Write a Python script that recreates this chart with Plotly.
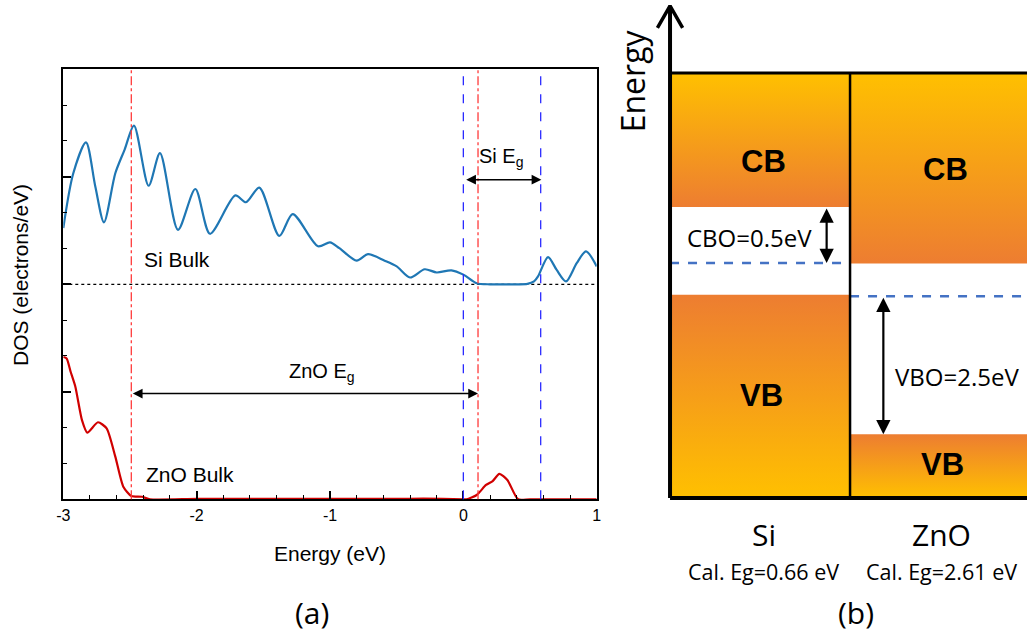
import plotly.graph_objects as go

W, H = 1027, 636

# ---------------- (a) DOS data ----------------
si_energy = [-3.00, -2.925, -2.83, -2.76, -2.695, -2.61, -2.54, -2.47, -2.36, -2.275,
             -2.14, -2.01, -1.90, -1.71, -1.63, -1.53, -1.38, -1.28, -1.09, -1.00,
             -0.93, -0.80, -0.715, -0.59, -0.50, -0.40, -0.29, -0.20, -0.09, 0.00,
             0.10, 0.20, 0.30, 0.40, 0.48, 0.53, 0.56, 0.635, 0.70, 0.77,
             0.85, 0.92, 1.00]
si_dos = [1.57, 3.10, 3.96, 2.73, 1.73, 3.10, 3.76, 4.43, 2.75, 3.66,
          1.52, 2.66, 1.41, 2.48, 2.29, 2.70, 1.35, 1.96, 1.06, 1.17,
          1.01, 0.66, 0.84, 0.66, 0.50, 0.19, 0.42, 0.33, 0.39, 0.27,
          0.03, 0.00, 0.00, 0.00, 0.01, 0.08, 0.22, 0.76, 0.40, 0.08,
          0.59, 0.92, 0.50]
SI_OFFSET = 6

zno_energy = [-3.00, -2.975, -2.945, -2.91, -2.86, -2.82, -2.74, -2.675, -2.61, -2.55,
              -2.49, -2.41, -2.35, -2.0, -1.5, -1.0, -0.5, -0.3, 0.00, 0.025,
              0.10, 0.17, 0.22, 0.27, 0.33, 0.41, 0.5, 1.00]
zno_dos = [3.97, 3.93, 3.56, 3.15, 2.21, 1.86, 2.15, 1.98, 1.19, 0.35,
           0.09, 0.07, 0.00, 0.01, 0.01, 0.01, 0.01, 0.02, 0.00, 0.00,
           0.12, 0.40, 0.51, 0.71, 0.54, 0.00, 0.00, 0.00]

zno_gap_edges = [-2.49, 0.11]   # red dash-dot lines
si_gap_edges = [0.00, 0.58]     # blue dashed lines
x_ticks = [-3, -2, -1, 0, 1]
x_tick_labels = ["-3", "-2", "-1", "0", "1"]

# ---------------- (b) band diagram data (schematic units) ----------------
materials = ["Si", "ZnO"]
gap_labels = ["Cal. Eg=0.66 eV", "Cal. Eg=2.61 eV"]
cb_top = [10.0, 10.0]
cb_bottom = [6.85, 5.52]
vb_top = [4.78, 1.50]
vb_bottom = [0.0, 0.0]
fermi_level = [5.53, 4.75]
offset_labels = ["CBO=0.5eV", "VBO=2.5eV"]

SI_COLOR = "#1F77B4"
ZNO_COLOR = "#D00000"
YELLOW = "#FFC000"
ORANGE = "#ED7D31"
BLUE_DASH = "#4472C4"

fig = go.Figure()

# ---- panel (a) curves ----
fig.add_trace(go.Scatter(x=si_energy, y=[v + SI_OFFSET for v in si_dos], mode="lines",
                         line=dict(color=SI_COLOR, width=2.2, shape="spline", smoothing=0.8),
                         xaxis="x", yaxis="y", hoverinfo="skip", showlegend=False))
fig.add_trace(go.Scatter(x=zno_energy, y=zno_dos, mode="lines",
                         line=dict(color=ZNO_COLOR, width=2.2, shape="spline", smoothing=0.6),
                         xaxis="x", yaxis="y", hoverinfo="skip", showlegend=False))

shapes = []
shapes.append(dict(type="line", xref="x domain", yref="y", x0=0, x1=1, y0=SI_OFFSET, y1=SI_OFFSET,
                   line=dict(color="black", width=1.2, dash="dot"), layer="below"))
for xv in zno_gap_edges:
    shapes.append(dict(type="line", xref="x", yref="y domain", x0=xv, x1=xv, y0=0, y1=1,
                       line=dict(color="#FF3B3B", width=1.3, dash="dashdot")))
for xv in si_gap_edges:
    shapes.append(dict(type="line", xref="x", yref="y domain", x0=xv, x1=xv, y0=0, y1=1,
                       line=dict(color="#2A2AFF", width=1.3, dash="dash")))

annotations = []
LFONT = "Liberation Sans, Arial, sans-serif"
RFONT = "Open Sans, Noto Sans, sans-serif"

si_arrow_y = 8.92
zno_arrow_y = 2.95
annotations.append(dict(x=si_gap_edges[1] + 0.005, y=si_arrow_y, ax=si_gap_edges[0] + 0.01, ay=si_arrow_y,
                        xref="x", yref="y", axref="x", ayref="y", text="", showarrow=True,
                        arrowhead=2, arrowside="end+start", arrowsize=1.3, arrowwidth=1.5,
                        arrowcolor="black", standoff=0, startstandoff=0))
annotations.append(dict(x=zno_gap_edges[1], y=zno_arrow_y, ax=zno_gap_edges[0], ay=zno_arrow_y,
                        xref="x", yref="y", axref="x", ayref="y", text="", showarrow=True,
                        arrowhead=2, arrowside="end+start", arrowsize=1.3, arrowwidth=1.5,
                        arrowcolor="black", standoff=0, startstandoff=0))
annotations.append(dict(x=0.28, y=9.55, xref="x", yref="y", text="Si E<sub>g</sub>", showarrow=False,
                        font=dict(family=LFONT, size=20, color="black")))
annotations.append(dict(x=-1.06, y=3.55, xref="x", yref="y", text="ZnO E<sub>g</sub>", showarrow=False,
                        font=dict(family=LFONT, size=20, color="black")))
annotations.append(dict(x=-2.41, y=6.69, xref="x", yref="y", text="Si Bulk", showarrow=False,
                        xanchor="left", font=dict(family=LFONT, size=21, color="black")))
annotations.append(dict(x=-2.395, y=0.68, xref="x", yref="y", text="ZnO Bulk", showarrow=False,
                        xanchor="left", font=dict(family=LFONT, size=21, color="black")))
annotations.append(dict(x=330 / W, y=1 - 553 / H, xref="paper", yref="paper", text="Energy (eV)",
                        xanchor="center", yanchor="middle",
                        showarrow=False, font=dict(family=LFONT, size=21, color="black")))
annotations.append(dict(x=20 / W, y=1 - 275 / H, xref="paper", yref="paper", text="DOS (electrons/eV)",
                        xanchor="center", yanchor="middle",
                        showarrow=False, textangle=-90, font=dict(family=LFONT, size=21, color="black")))
annotations.append(dict(x=312 / W, y=1 - 612 / H, xref="paper", yref="paper", text="(a)",
                        xanchor="center", yanchor="middle",
                        showarrow=False, font=dict(family=RFONT, size=30, color="black")))
annotations.append(dict(x=856 / W, y=1 - 612 / H, xref="paper", yref="paper", text="(b)",
                        xanchor="center", yanchor="middle",
                        showarrow=False, font=dict(family=RFONT, size=30, color="black")))

# ---- panel (b) bands ----
for i, m in enumerate(materials):
    x0, x1 = i, i + 1
    fig.add_trace(go.Scatter(x=[x0, x1, x1, x0, x0],
                             y=[cb_bottom[i], cb_bottom[i], cb_top[i], cb_top[i], cb_bottom[i]],
                             fill="toself", mode="lines", line=dict(width=0, color="rgba(0,0,0,0)"),
                             fillgradient=dict(type="vertical", colorscale=[[0, ORANGE], [1, YELLOW]]),
                             xaxis="x2", yaxis="y2", hoverinfo="skip", showlegend=False))
    fig.add_trace(go.Scatter(x=[x0, x1, x1, x0, x0],
                             y=[vb_bottom[i], vb_bottom[i], vb_top[i], vb_top[i], vb_bottom[i]],
                             fill="toself", mode="lines", line=dict(width=0, color="rgba(0,0,0,0)"),
                             fillgradient=dict(type="vertical", colorscale=[[0, YELLOW], [1, ORANGE]]),
                             xaxis="x2", yaxis="y2", hoverinfo="skip", showlegend=False))
    fig.add_trace(go.Scatter(x=[x0, x1], y=[fermi_level[i], fermi_level[i]], mode="lines",
                             line=dict(color=BLUE_DASH, width=2.5, dash="dash"),
                             xaxis="x2", yaxis="y2", hoverinfo="skip", showlegend=False))

n = len(materials)
top_level = max(cb_top)
fig.add_trace(go.Scatter(x=[0, n], y=[top_level, top_level], mode="lines", line=dict(color="black", width=3),
                         xaxis="x2", yaxis="y2", hoverinfo="skip", showlegend=False))
fig.add_trace(go.Scatter(x=[1, 1], y=[0, top_level], mode="lines", line=dict(color="black", width=2.5),
                         xaxis="x2", yaxis="y2", hoverinfo="skip", showlegend=False))
fig.add_trace(go.Scatter(x=[0, n], y=[0, 0], mode="lines", line=dict(color="black", width=4),
                         xaxis="x2", yaxis="y2", hoverinfo="skip", showlegend=False))
axis_top = 11.58
fig.add_trace(go.Scatter(x=[0, 0], y=[0, axis_top], mode="lines", line=dict(color="black", width=4),
                         xaxis="x2", yaxis="y2", hoverinfo="skip", showlegend=False))
fig.add_trace(go.Scatter(x=[-0.07, 0, 0.07], y=[axis_top - 0.52, axis_top, axis_top - 0.52], mode="lines",
                         line=dict(color="black", width=3.5),
                         xaxis="x2", yaxis="y2", hoverinfo="skip", showlegend=False))

annotations.append(dict(x=0.87, y=fermi_level[0], ax=0.87, ay=cb_bottom[0], xref="x2", yref="y2",
                        axref="x2", ayref="y2", text="", showarrow=True, arrowhead=2,
                        arrowside="end+start", arrowsize=1.3, arrowwidth=2.2, arrowcolor="black",
                        standoff=0, startstandoff=0))
annotations.append(dict(x=1.185, y=vb_top[1], ax=1.185, ay=fermi_level[1], xref="x2", yref="y2",
                        axref="x2", ayref="y2", text="", showarrow=True, arrowhead=2,
                        arrowside="end+start", arrowsize=1.3, arrowwidth=2.2, arrowcolor="black",
                        standoff=0, startstandoff=0))
annotations.append(dict(x=0.44, y=6.12, xref="x2", yref="y2", text=offset_labels[0], showarrow=False,
                        font=dict(family=RFONT, size=24, color="black")))
annotations.append(dict(x=1.24, y=2.85, xref="x2", yref="y2", text=offset_labels[1], showarrow=False,
                        xanchor="left", font=dict(family=RFONT, size=24, color="black")))

band_label_pos = {"CB": ([0.52, 1.53], [7.91, 7.72]), "VB": ([0.506, 1.515], [2.42, 0.79])}
for lab, (xs, ys) in band_label_pos.items():
    for xv, yv in zip(xs, ys):
        annotations.append(dict(x=xv, y=yv, xref="x2", yref="y2", text="<b>%s</b>" % lab, showarrow=False,
                                font=dict(family=LFONT, size=31, color="black")))

mat_x = [0.52, 1.51]
for i, m in enumerate(materials):
    annotations.append(dict(x=mat_x[i], y=-0.87, xref="x2", yref="y2", text=m, showarrow=False,
                            font=dict(family=RFONT, size=30, color="black")))
    annotations.append(dict(x=mat_x[i], y=-1.74, xref="x2", yref="y2", text=gap_labels[i], showarrow=False,
                            font=dict(family=RFONT, size=21.5, color="black")))
annotations.append(dict(x=-0.21, y=9.81, xref="x2", yref="y2", text="Energy", showarrow=False,
                        textangle=-90, font=dict(family=RFONT, size=32, color="black")))

fig.update_layout(
    template="none",
    width=W, height=H, margin=dict(l=0, r=0, t=0, b=0, pad=0, autoexpand=False),
    paper_bgcolor="white", plot_bgcolor="rgba(0,0,0,0)",
    showlegend=False, shapes=shapes, annotations=annotations,
    xaxis=dict(domain=[63.3 / W, 596.7 / W], range=[-3, 1], tickvals=x_ticks, ticktext=x_tick_labels,
               ticks="inside", ticklen=8, tickwidth=1.5, tickcolor="black",
               minor=dict(dtick=0.2, tick0=-3, ticks="inside", ticklen=4, tickwidth=1.2, tickcolor="black"),
               showline=True, linewidth=2, linecolor="black", mirror=True, automargin=False,
               showgrid=False, zeroline=False, anchor="y",
               tickfont=dict(family=LFONT, size=16, color="black")),
    yaxis=dict(domain=[1 - 499.3 / H, 1 - 69.3 / H], range=[0, 12], tickvals=[0, 3, 6, 9, 12],
               showticklabels=False, ticks="inside", ticklen=8, tickwidth=1.5, tickcolor="black",
               minor=dict(dtick=1, tick0=0, ticks="inside", ticklen=4, tickwidth=1.2, tickcolor="black"),
               showline=True, linewidth=2, linecolor="black", mirror=True, automargin=False,
               showgrid=False, zeroline=False, anchor="x"),
    xaxis2=dict(domain=[600 / W, 1], range=[-0.389, 1.983], visible=False, anchor="y2", automargin=False),
    yaxis2=dict(domain=[0, 1], range=[-3.247, 11.718], visible=False, anchor="x2", automargin=False),
)

fig.write_html("out.html", config={"displayModeBar": False},
               post_script="document.body.style.margin='0px';")
